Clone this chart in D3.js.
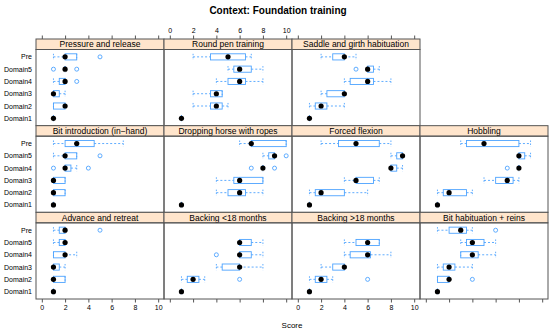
<!DOCTYPE html>
<html><head><meta charset="utf-8">
<script src="https://cdn.jsdelivr.net/npm/d3@7"></script>
<style>body{margin:0;background:#fff}</style>
</head><body>
<script>
// categories, top to bottom as shown
const categories = ["Pre","Domain5","Domain4","Domain3","Domain2","Domain1"];
const xTicks = [0,2,4,6,8,10];
const panelTitles = [
  "Pressure and release","Round pen training","Saddle and girth habituation",
  "Bit introduction (in\u2212hand)","Dropping horse with ropes","Forced flexion","Hobbling",
  "Advance and retreat","Backing <18 months","Backing >18 months","Bit habituation + reins"
];
// each row: [lower whisker, Q1, median, Q3, upper whisker]; null = no data
const pressureRelease = [[1,2,2,3,3],[2,2,2,2,2],[1,1.5,2,2,2],[1,1,1,1.5,2],[1,1,2,2,2],[1,1,1,1,1]];
const roundPen        = [[2,3.5,5,6.5,7],[5,5.5,6,7,8],[4,5,6,6.5,8],[2,3.5,4,4.5,4.5],[2,3.5,4,4.5,5],[1,1,1,1,1]];
const saddleGirth     = [[2,3,4,4,5],[6,6,6,6.5,7],[4,4.5,6,6.5,8],[2,2.5,4,4,4],[1,1.5,2,2.5,4],[1,1,1,1,1]];
const bitIntro        = [[1,2,3,4.5,7],[1,2,2,3,3],[2,2,2,2.5,3],[1,1,1,2,2],[1,1,1,2,2],[1,1,1,1,1]];
const droppingRopes   = [[6,7,7,10,10],[8,8.5,9,9,9],[8,8,8,8,8],[4,5.5,6,8,8],[4,5,6,6.5,8],[1,1,1,1,1]];
const forcedFlexion   = [[2,3.5,5,7,8],[8,8.5,9,9,9],[8,8,8,8.5,9],[4,5,5,6.5,7],[1,1.5,2,4,6],[1,1,1,1,1]];
const hobbling        = [[3,3.5,5,8,9],[8,8,8,8.5,9],[8,8,8,8,8],[5,6,7,7.5,8],[1,1.5,2,3.5,4],[1,1,1,1,1]];
const advanceRetreat  = [[1,1.5,2,2,2],[1,1.5,2,2,2],[1,1,2,2,3],[1,1,1,1.5,2],[1,1,1,2,2],[1,1,1,1,1]];
const backingUnder18  = [null,[6,6,6,7,8],[6,6,6,7,8],[4,4.5,6,6,8],[1,1.5,2,2.5,3],[1,1,1,1,1]];
const backingOver18   = [null,[4,5,6,7,7],[4,4.5,6,6.25,8],[2,3,4,4,4],[1,1.5,2,2.5,3],[1,1,1,1,1]];
const bitHabReins     = [[1,2,3,3.5,4],[3,3.5,4,5,6],[3,3,4,4.5,6],[1,1.5,2,2.5,4],[1,1,2,2,2],[1,1,1,1,1]];
// outliers per category row
const outPressureRelease = [[5],[1,3],[3],[],[],[]];
const outRoundPen        = [[],[],[],[],[],[]];
const outSaddleGirth     = [[],[5],[],[],[],[]];
const outBitIntro        = [[],[5],[1,4],[],[],[]];
const outDroppingRopes   = [[],[10],[7,9],[],[],[]];
const outForcedFlexion   = [[],[],[],[],[],[]];
const outHobbling        = [[],[],[7],[],[],[]];
const outAdvanceRetreat  = [[5],[],[],[],[],[]];
const outBackingUnder18  = [[],[],[4],[],[6],[]];
const outBackingOver18   = [[],[],[],[],[6],[]];
const outBitHabReins     = [[6],[],[],[],[4],[]];

const panelStats = [pressureRelease,roundPen,saddleGirth,bitIntro,droppingRopes,forcedFlexion,hobbling,advanceRetreat,backingUnder18,backingOver18,bitHabReins];
const panelOut = [outPressureRelease,outRoundPen,outSaddleGirth,outBitIntro,outDroppingRopes,outForcedFlexion,outHobbling,outAdvanceRetreat,outBackingUnder18,outBackingOver18,outBitHabReins];
const panelPos = [[0,0],[0,1],[0,2],[1,0],[1,1],[1,2],[1,3],[2,0],[2,1],[2,2],[2,3]];

const W=550,H=331;
const colX=[36,164,292,420], colW=128;
const topY=39, rowH=86.67, stripH=10.5;
const blue="#4da3ff", border="#555", font="Liberation Sans, Arial, sans-serif";

const svg=d3.select("body").append("svg").attr("width",W).attr("height",H).style("font-family",font);

svg.append("text").attr("x",278).attr("y",13.5).attr("text-anchor","middle")
  .attr("font-size",10).attr("font-weight","bold").text("Context: Foundation training");
svg.append("text").attr("x",292).attr("y",327.5).attr("text-anchor","middle")
  .attr("font-size",8).text("Score");

const xScaleFor = c => d3.scaleLinear().domain([-0.5,10.5]).range([colX[c],colX[c]+colW]);

panelTitles.forEach((title,p)=>{
  const [r,c]=panelPos[p];
  const x=xScaleFor(c);
  const y0=topY+r*rowH;
  const y=d3.scaleLinear().domain([0.4,6.6]).range([y0+rowH,y0+stripH]);
  const yc=i=>y(6-i);
  const bh=(y(0)-y(0.5))/2; // half box height (box.ratio = 1)
  const g=svg.append("g");
  g.append("rect").attr("x",colX[c]).attr("y",y0).attr("width",colW).attr("height",stripH)
    .attr("fill","#ffe5cc").attr("stroke",border).attr("stroke-width",1);
  g.append("text").attr("x",colX[c]+colW/2).attr("y",y0+stripH-2.3).attr("text-anchor","middle")
    .attr("font-size",8.5).text(title);
  g.append("rect").attr("x",colX[c]).attr("y",y0+stripH).attr("width",colW).attr("height",rowH-stripH)
    .attr("fill","none").attr("stroke",border).attr("stroke-width",1);

  panelStats[p].forEach((s,i)=>{
    if(!s) return;
    const cy=yc(i);
    const [lo,q1,md,q3,hi]=s;
    const dash="2,2";
    if(lo<q1) g.append("line").attr("x1",x(lo)).attr("x2",x(q1)).attr("y1",cy).attr("y2",cy).attr("stroke",blue).attr("stroke-dasharray",dash).attr("stroke-width",0.9);
    if(hi>q3) g.append("line").attr("x1",x(q3)).attr("x2",x(hi)).attr("y1",cy).attr("y2",cy).attr("stroke",blue).attr("stroke-dasharray",dash).attr("stroke-width",0.9);
    [lo,hi].forEach(v=>{
      g.append("line").attr("x1",x(v)).attr("x2",x(v)).attr("y1",cy-bh).attr("y2",cy+bh).attr("stroke",blue).attr("stroke-dasharray","1.5,1.5").attr("stroke-width",0.9);
    });
    if(q3>q1) g.append("rect").attr("x",x(q1)).attr("y",cy-bh).attr("width",x(q3)-x(q1)).attr("height",2*bh)
      .attr("fill","none").attr("stroke",blue).attr("stroke-width",0.9);
    panelOut[p][i].forEach(v=>{
      g.append("circle").attr("cx",x(v)).attr("cy",cy).attr("r",2).attr("fill","none").attr("stroke",blue).attr("stroke-width",0.9);
    });
    g.append("circle").attr("cx",x(md)).attr("cy",cy).attr("r",2.6).attr("fill","#000");
  });
});

for(let r=0;r<3;r++){
  const y0=topY+r*rowH;
  const y=d3.scaleLinear().domain([0.4,6.6]).range([y0+rowH,y0+stripH]);
  categories.forEach((cat,i)=>{
    svg.append("text").attr("x",32).attr("y",y(6-i)+2.5).attr("text-anchor","end").attr("font-size",7).text(cat);
  });
}

[0,1,2].forEach(c=>{
  const ax=d3.axisTop(xScaleFor(c)).tickValues(xTicks).tickSize(3.5).tickPadding(2.5)
    .tickFormat(c===1?d3.format("d"):()=>"");
  const g=svg.append("g").attr("transform",`translate(0,${topY})`).call(ax);
  g.select(".domain").remove();
  g.selectAll("line").attr("stroke",border);
  g.selectAll("text").attr("font-size",7).attr("font-family",font).attr("fill","#000");
});
[0,1,2,3].forEach(c=>{
  const ax=d3.axisBottom(xScaleFor(c)).tickValues(xTicks).tickSize(3.5).tickPadding(2.5)
    .tickFormat(c%2===0?d3.format("d"):()=>"");
  const g=svg.append("g").attr("transform",`translate(0,${topY+3*rowH})`).call(ax);
  g.select(".domain").remove();
  g.selectAll("line").attr("stroke",border);
  g.selectAll("text").attr("font-size",7).attr("font-family",font).attr("fill","#000");
});
</script>
</body></html>
